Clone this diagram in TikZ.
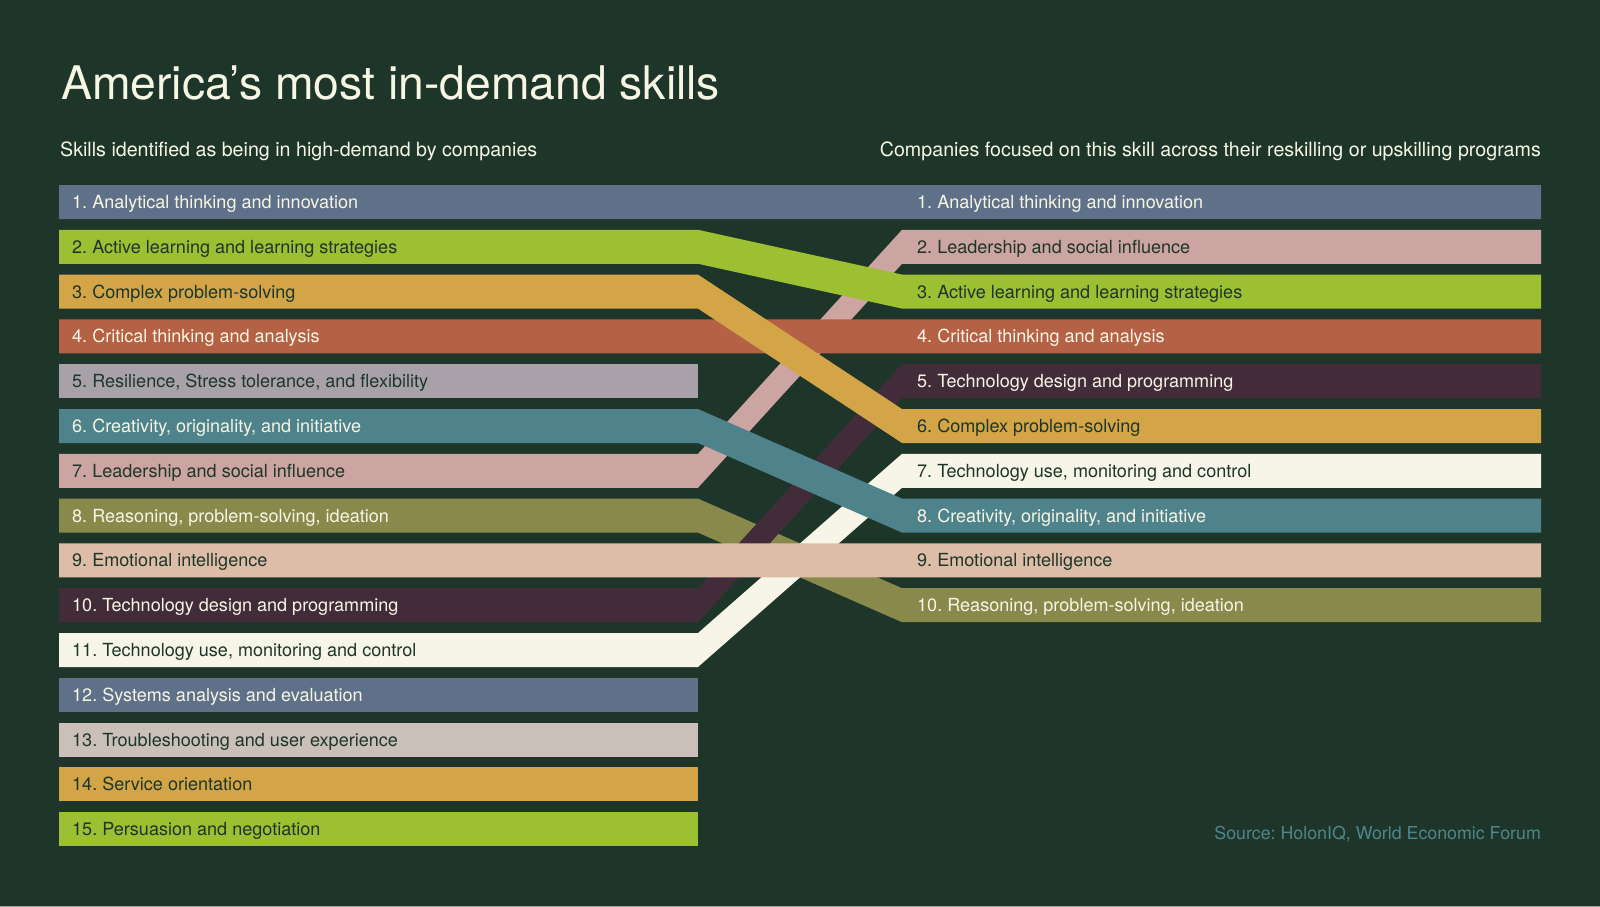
\documentclass[tikz,border=0pt]{standalone}
\usepackage{fontspec}
\setmainfont{TeX Gyre Heros}
\frenchspacing
\definecolor{bgc}{HTML}{1E3629}
\definecolor{creamtxt}{HTML}{F7F5E4}
\definecolor{slate}{HTML}{5F7189}
\definecolor{lime}{HTML}{9DBF32}
\definecolor{mustard}{HTML}{D3A547}
\definecolor{brick}{HTML}{B56146}
\definecolor{mauve}{HTML}{A9A1A9}
\definecolor{tealc}{HTML}{4E838B}
\definecolor{pinkc}{HTML}{CCA4A1}
\definecolor{olivec}{HTML}{8A894C}
\definecolor{peach}{HTML}{DEBDA8}
\definecolor{plum}{HTML}{432C3A}
\definecolor{creambar}{HTML}{F6F5E7}
\definecolor{taupe}{HTML}{CBC0B9}
\definecolor{srcc}{HTML}{4F868C}
\definecolor{edgeline}{HTML}{9AA89F}
% band from left row #2 to right row #3
\newcommand\skband[3]{%
  \fill[#1] (59,{185+44.8*(#2-1)}) -- (698,{185+44.8*(#2-1)}) -- (902,{185+44.8*(#3-1)}) -- (1541,{185+44.8*(#3-1)})
    -- (1541,{219+44.8*(#3-1)}) -- (902,{219+44.8*(#3-1)}) -- (698,{219+44.8*(#2-1)}) -- (59,{219+44.8*(#2-1)}) -- cycle;}
\newcommand\skbar[2]{%
  \fill[#1] (59,{185+44.8*(#2-1)}) rectangle (698,{219+44.8*(#2-1)});}
\begin{document}
\begin{tikzpicture}[x=1pt,y=-1pt,
  lbl/.style={anchor=base west, inner sep=0pt, font=\fontsize{18.05}{21}\selectfont},
  lt/.style={lbl, text=creamtxt},
  dk/.style={lbl, text=bgc},
  sub/.style={inner sep=0pt, text=creamtxt, font=\fontsize{19.65}{23}\selectfont}]
\useasboundingbox (0,0) rectangle (1600,907);
\fill[bgc] (0,0) rectangle (1600,907);
\fill[edgeline] (0,906) rectangle (1600,907);

% title and subtitles
\node[anchor=base west, inner sep=0pt, text=creamtxt, font=\fontsize{46.3}{50}\selectfont] (title) at (61,99.3) {America’s most in-demand skills};
\node[sub, anchor=base west] (subl) at (60,156) {Skills identified as being in high-demand by companies};
\node[sub, anchor=base east] (subr) at (1541,156) {Companies focused on this skill across their reskilling or upskilling programs};

% bars that end on the left
\skbar{mauve}{5}
\skbar{slate}{12}
\skbar{taupe}{13}
\skbar{mustard}{14}
\skbar{lime}{15}

% bands, back to front
\skband{slate}{1}{1}
\skband{olivec}{8}{10}
\skband{pinkc}{7}{2}
\skband{plum}{10}{5}
\skband{creambar}{11}{7}
\skband{brick}{4}{4}
\skband{peach}{9}{9}
\skband{mustard}{3}{6}
\skband{tealc}{6}{8}
\skband{lime}{2}{3}

% left labels
\foreach \n/\s/\t in {1/lt/{1. Analytical thinking and innovation},
  2/dk/{2. Active learning and learning strategies},
  3/dk/{3. Complex problem-solving},
  4/lt/{4. Critical thinking and analysis},
  5/dk/{5. Resilience, Stress tolerance, and flexibility},
  6/lt/{6. Creativity, originality, and initiative},
  7/dk/{7. Leadership and social influence},
  8/lt/{8. Reasoning, problem-solving, ideation},
  9/dk/{9. Emotional intelligence},
  10/lt/{10. Technology design and programming},
  11/dk/{11. Technology use, monitoring and control},
  12/lt/{12. Systems analysis and evaluation},
  13/dk/{13. Troubleshooting and user experience},
  14/dk/{14. Service orientation},
  15/dk/{15. Persuasion and negotiation}}
  \node[\s] (L\n) at (72,{208.5+44.8*(\n-1)}) {\t};

% right labels
\foreach \n/\s/\t in {1/lt/{1. Analytical thinking and innovation},
  2/dk/{2. Leadership and social influence},
  3/dk/{3. Active learning and learning strategies},
  4/lt/{4. Critical thinking and analysis},
  5/lt/{5. Technology design and programming},
  6/dk/{6. Complex problem-solving},
  7/dk/{7. Technology use, monitoring and control},
  8/lt/{8. Creativity, originality, and initiative},
  9/dk/{9. Emotional intelligence},
  10/lt/{10. Reasoning, problem-solving, ideation}}
  \node[\s] (R\n) at (917,{208.5+44.8*(\n-1)}) {\t};

% source
\node[anchor=base east, inner sep=0pt, text=srcc, font=\fontsize{17.8}{20}\selectfont] (src) at (1541,839) {Source: HolonIQ, World Economic Forum};
\end{tikzpicture}
\end{document}
